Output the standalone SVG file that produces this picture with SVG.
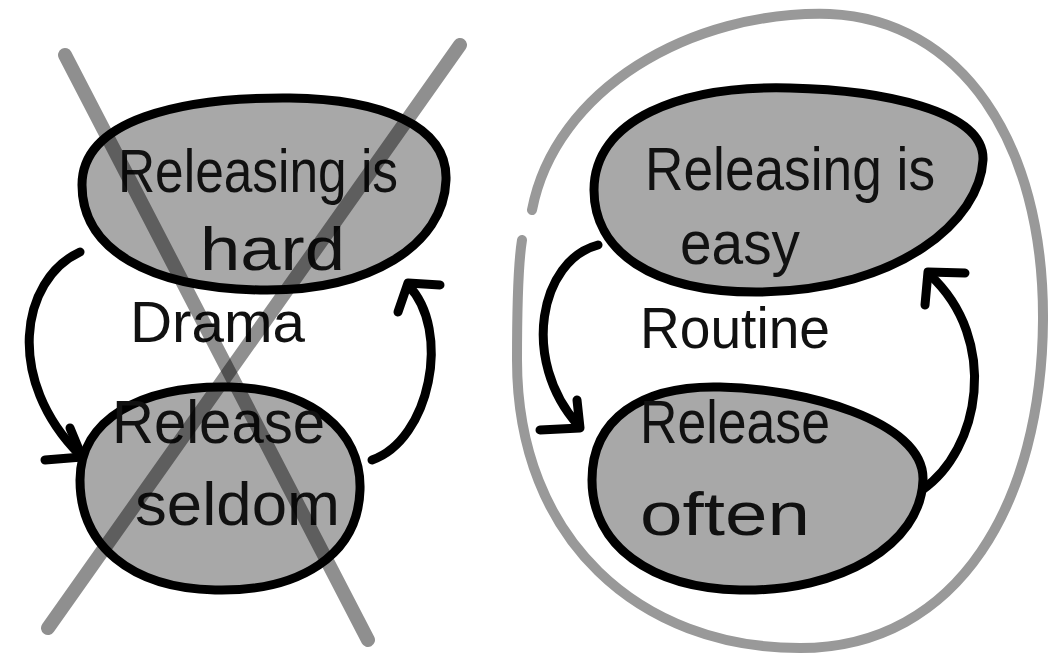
<svg xmlns="http://www.w3.org/2000/svg" width="1049" height="654" viewBox="0 0 1049 654">
<style>
.blob{fill:#a8a8a8;stroke:#000;stroke-width:9;stroke-linejoin:round}
.lbl{font-family:"Liberation Sans","DejaVu Sans",sans-serif;fill:#111;font-size:62px}
.mid{font-family:"Liberation Sans","DejaVu Sans",sans-serif;fill:#111;font-size:58px}
.arr{fill:none;stroke:#000;stroke-width:9;stroke-linecap:round;stroke-linejoin:round}
.cross{fill:none;stroke:#000;stroke-opacity:0.44;stroke-width:14;stroke-linecap:round}
.ring{fill:none;stroke:#999;stroke-width:10;stroke-linecap:round}
</style>
<rect width="1049" height="654" fill="#fff"/>
<g id="ring">
<path class="ring" d="M 532 210 C 555 90, 690 10, 830 14 C 960 20, 1044 140, 1043 320 C 1042 500, 960 648, 800 648 C 640 648, 517 540, 517 360 C 517 300, 518 265, 522 240"/>
</g>
<g id="connectors">
<path class="arr" d="M 80 252 C 20 280, 5 380, 80 455"/>
<polyline class="arr" points="45,460 82,457 70,428"/>
<path class="arr" d="M 372 460 C 430 440, 452 330, 408 285"/>
<polyline class="arr" points="440,285 408,283 398,312"/>
<path class="arr" d="M 598 245 C 540 260, 520 360, 578 425"/>
<polyline class="arr" points="540,430 580,428 577,400"/>
<path class="arr" d="M 922 490 C 980 450, 1000 340, 930 275"/>
<polyline class="arr" points="965,273 928,272 925,305"/>
</g>
<g id="hard">
<path class="blob" d="M 82 185 C 82 120, 180 97, 290 98 C 380 99, 448 125, 446 180 C 444 245, 370 292, 260 290 C 150 288, 82 250, 82 185 Z"/>
<text class="lbl" x="118" y="192" textLength="280" lengthAdjust="spacingAndGlyphs">Releasing is</text>
<text class="lbl" x="200" y="270" textLength="145" lengthAdjust="spacingAndGlyphs">hard</text>
</g>
<g id="seldom">
<path class="blob" d="M 80 480 C 80 420, 140 385, 230 387 C 310 389, 362 430, 360 490 C 358 555, 300 592, 215 590 C 130 588, 80 545, 80 480 Z"/>
<text class="lbl" x="112" y="443" textLength="213" lengthAdjust="spacingAndGlyphs">Release</text>
<text class="lbl" x="135" y="525" textLength="205" lengthAdjust="spacingAndGlyphs">seldom</text>
</g>
<g id="drama">
<text class="mid" x="130" y="342" textLength="175" lengthAdjust="spacingAndGlyphs">Drama</text>
</g>
<g id="cross">
<line class="cross" x1="65" y1="55" x2="368" y2="640"/>
<line class="cross" x1="460" y1="45" x2="48" y2="628"/>
</g>
<g id="easy">
<path class="blob" d="M 594 190 C 594 120, 680 85, 790 88 C 880 90, 985 110, 983 160 C 980 220, 900 290, 760 292 C 650 293, 594 250, 594 190 Z"/>
<text class="lbl" x="645" y="190" textLength="290" lengthAdjust="spacingAndGlyphs">Releasing is</text>
<text class="lbl" x="680" y="264" textLength="120" lengthAdjust="spacingAndGlyphs">easy</text>
</g>
<g id="often">
<path class="blob" d="M 592 480 C 592 420, 640 385, 720 387 C 800 388, 925 420, 923 480 C 921 545, 840 592, 740 590 C 650 588, 592 545, 592 480 Z"/>
<text class="lbl" x="640" y="443" textLength="190" lengthAdjust="spacingAndGlyphs">Release</text>
<text class="lbl" x="640" y="535" textLength="170" lengthAdjust="spacingAndGlyphs">often</text>
</g>
<g id="routine">
<text class="mid" x="640" y="348" textLength="190" lengthAdjust="spacingAndGlyphs">Routine</text>
</g>
</svg>
